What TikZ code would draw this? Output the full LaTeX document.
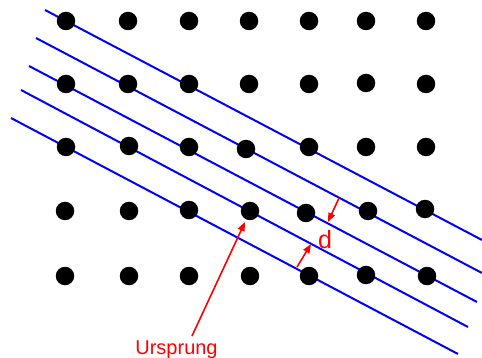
\documentclass[tikz,border=0pt]{standalone}
\usepackage{fontspec}
\setmainfont{Liberation Sans}
\usetikzlibrary{arrows.meta}
\begin{document}
\begin{tikzpicture}[x=1pt,y=-1pt,
  dot/.style={circle,fill=black,inner sep=0pt,minimum width=18pt,minimum height=18.5pt},
  latline/.style={blue,line width=2pt},
  redarrow/.style={red,line width=1.6pt,-{Triangle[length=9pt,width=7pt]}},
  lbl/.style={red,inner sep=0pt}
]
\useasboundingbox (0,0) rectangle (482,358);
% lattice lines
\coordinate (l1a) at (45,10);  \coordinate (l1b) at (482,240);
\coordinate (l2a) at (36,38);  \coordinate (l2b) at (482,273);
\coordinate (l3a) at (29,66);  \coordinate (l3b) at (477,302);
\coordinate (l4a) at (21,90);  \coordinate (l4b) at (468,327);
\coordinate (l5a) at (11,118); \coordinate (l5b) at (458,354);
\foreach \i in {1,...,5} \draw[latline] (l\i a) -- (l\i b);
% dots
\foreach \x [count=\c] in {66,128,189,249,309,366,426} \node[dot] (r1c\c) at (\x,21) {};
\foreach \x/\y [count=\c] in {66/84,128/84,189/84,249/84,309/84,366/83,426/84} \node[dot] (r2c\c) at (\x,\y) {};
\foreach \x/\y [count=\c] in {66/147,129/146,189/147,246/149,309/147,366/147,426/147} \node[dot] (r3c\c) at (\x,\y) {};
\foreach \x/\y [count=\c] in {65/211,129/211,189/210,250/211,306/213,368/211,425/209} \node[dot] (r4c\c) at (\x,\y) {};
\foreach \x/\y [count=\c] in {65/276,129/276,189/276,250/276,309/276,366/275,427/276} \node[dot] (r5c\c) at (\x,\y) {};
% labels and arrows
\node[lbl,font=\fontsize{20}{22}\selectfont,anchor=base] (urs) at (176.5,354) {Ursprung};
\coordinate (ustart) at (192,336);
\coordinate (utip) at (245,222);
\draw[redarrow] (ustart) -- (utip);
\node[lbl,font=\fontsize{25}{28}\selectfont,anchor=base] (d) at (325,248) {d};
\coordinate (dastart) at (339,198);
\coordinate (datip) at (328,222);
\draw[redarrow] (dastart) -- (datip);
\coordinate (dbstart) at (297,267);
\coordinate (dbtip) at (311,244);
\draw[redarrow] (dbstart) -- (dbtip);
\end{tikzpicture}
\end{document}
